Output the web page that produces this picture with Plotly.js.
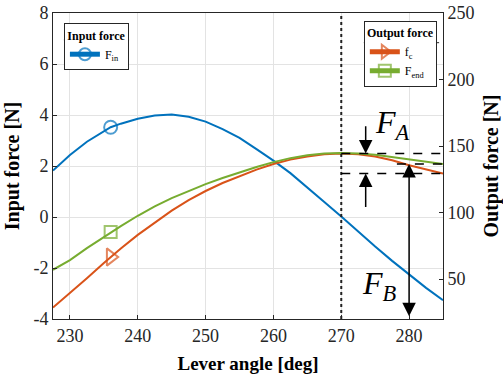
<!DOCTYPE html>
<html>
<head>
<meta charset="utf-8">
<script src="https://cdn.plot.ly/plotly-3.0.1.min.js"></script>
<style>html,body{margin:0;padding:0;background:#fff;}</style>
</head>
<body>
<div id="chart" style="width:503px;height:377px;"></div>
<script>
// Lever angle [deg]
const angles = [227.5, 230, 232.5, 235, 236, 237.5, 240, 242.5, 245, 247.5, 250, 252.5, 255, 257.5, 260, 262.5, 265, 267.5, 270, 272.5, 275, 277.5, 280, 282.5, 285];
// Input force F_in [N] (left axis)
const fIn = [1.82, 2.43, 2.95, 3.38, 3.52, 3.66, 3.85, 3.98, 4.02, 3.93, 3.74, 3.45, 3.10, 2.66, 2.21, 1.72, 1.17, 0.59, 0.02, -0.58, -1.16, -1.72, -2.26, -2.78, -3.26];
// Output force f_c [N] (right axis)
const fC = [28.6, 39.4, 50.7, 62.1, 66.6, 73.0, 83.2, 92.6, 101.4, 109.4, 116.2, 122.2, 127.5, 132.3, 136.5, 139.8, 142.2, 143.8, 144.4, 143.8, 142.1, 139.3, 135.6, 132.5, 129.4];
// Output force F_end [N] (right axis)
const fEnd = [57.0, 64.3, 73.3, 81.8, 85.3, 89.8, 97.6, 104.6, 110.8, 116.4, 121.4, 126.0, 130.3, 134.3, 137.9, 140.9, 143.1, 144.4, 144.8, 144.4, 143.4, 141.8, 139.8, 138.1, 136.5];

const markerAngle = 236;
const refAngle = 270;
const fAArrowAngle = 273.6;
const fBArrowAngle = 280;

const xTicks = [230, 240, 250, 260, 270, 280];
const yLeftTicks = [-4, -2, 0, 2, 4, 6, 8];
const yLeftTickText = ['-4', '-2', '0', '2', '4', '6', '8'];
const yRightTicks = [50, 100, 150, 200, 250];

const xRange = [227.5, 285];
const yLeftRange = [-4, 8];
const yRightRange = [20, 250];

const blue = '#0072BD', orange = '#D95319', green = '#77AC30';
const serif = '"Liberation Serif", "Times New Roman", Times, serif';
const axisCol = '#262626';

const sizeAt = s => angles.map(a => a === markerAngle ? s : 0);

const peakForce = Math.max(...fC);
const cEnd = fC[fC.length - 1];
const endEnd = fEnd[fEnd.length - 1];

const traces = [
  {x: angles, y: fIn, name: 'F<sub>in</sub>', mode: 'lines+markers', yaxis: 'y', legend: 'legend',
   line: {color: blue, width: 2},
   marker: {symbol: 'circle-open', size: sizeAt(13), color: blue, line: {width: 2, color: blue}}},
  {x: angles, y: fC, name: 'f<sub>c</sub>', mode: 'lines+markers', yaxis: 'y2', legend: 'legend2',
   line: {color: orange, width: 2},
   marker: {symbol: 'triangle-right-open', size: sizeAt(15), color: orange, line: {width: 2, color: orange}}},
  {x: angles, y: fEnd, name: 'F<sub>end</sub>', mode: 'lines+markers', yaxis: 'y2', legend: 'legend2',
   line: {color: green, width: 2},
   marker: {symbol: 'square-open', size: sizeAt(12), color: green, line: {width: 2, color: green}}}
];

const legendCommon = {
  bgcolor: '#ffffff', bordercolor: axisCol, borderwidth: 1,
  font: {family: serif, size: 12, color: '#000'},
  itemsizing: 'constant', tracegroupgap: 0,
  xanchor: 'left', yanchor: 'top'
};

const layout = {
  width: 503, height: 377,
  margin: {l: 53, r: 60, t: 13, b: 58},
  paper_bgcolor: '#fff', plot_bgcolor: '#fff',
  font: {family: serif, color: axisCol},
  showlegend: true,
  legend: Object.assign({}, legendCommon, {x: 0.028, y: 0.967,
    title: {text: 'Input force', side: 'top center', font: {family: serif, size: 12, weight: 'bold', color: '#000'}}}),
  legend2: Object.assign({}, legendCommon, {x: 0.797, y: 0.975,
    title: {text: 'Output force', side: 'top center', font: {family: serif, size: 12, weight: 'bold', color: '#000'}}}),
  xaxis: {
    range: xRange, tickvals: xTicks, ticks: 'inside', ticklen: 4, tickcolor: axisCol,
    showline: true, linecolor: axisCol, linewidth: 1, mirror: true,
    showgrid: true, gridcolor: '#e3e3e3', gridwidth: 1, zeroline: false,
    tickfont: {family: serif, size: 18, color: axisCol},
    title: {text: 'Lever angle [deg]', font: {family: serif, size: 19, weight: 'bold', color: '#000'}, standoff: 12}
  },
  yaxis: {
    range: yLeftRange, tickvals: yLeftTicks, ticktext: yLeftTickText, ticks: 'inside', ticklen: 4, tickcolor: axisCol,
    showline: true, linecolor: axisCol, linewidth: 1,
    showgrid: true, gridcolor: '#e3e3e3', gridwidth: 1, zeroline: false,
    tickfont: {family: serif, size: 18, color: axisCol},
    title: {text: 'Input force [N]', font: {family: serif, size: 20, weight: 'bold', color: '#000'}, standoff: 8}
  },
  yaxis2: {
    range: yRightRange, tickvals: yRightTicks, ticks: 'inside', ticklen: 4, tickcolor: axisCol,
    overlaying: 'y', side: 'right',
    showline: true, linecolor: axisCol, linewidth: 1,
    showgrid: false, zeroline: false,
    tickfont: {family: serif, size: 18, color: axisCol},
    title: {text: 'Output force [N]', font: {family: serif, size: 20, weight: 'bold', color: '#000'}, standoff: 10}
  },
  shapes: [
    {type: 'line', xref: 'x', yref: 'paper', x0: refAngle, x1: refAngle, y0: 0, y1: 1,
     line: {color: '#222', width: 2, dash: 'dot'}},
    {type: 'line', xref: 'x', yref: 'y2', x0: refAngle, x1: xRange[1], y0: peakForce, y1: peakForce,
     line: {color: '#000', width: 1.5, dash: 'dash'}},
    {type: 'line', xref: 'x', yref: 'y2', x0: refAngle, x1: xRange[1], y0: cEnd, y1: cEnd,
     line: {color: '#000', width: 1.5, dash: 'dash'}},
    {type: 'line', xref: 'x', yref: 'y2', x0: 278.2, x1: xRange[1], y0: endEnd, y1: endEnd,
     line: {color: '#000', width: 1.5, dash: 'dash'}},
    {type: 'line', xref: 'paper', yref: 'paper', x0: 0.028, x1: 0.195, y0: 0.912, y1: 0.912,
     line: {color: axisCol, width: 1}},
    {type: 'line', xref: 'paper', yref: 'paper', x0: 0.797, x1: 0.99, y0: 0.903, y1: 0.903,
     line: {color: axisCol, width: 1}}
  ],
  annotations: [
    {x: fAArrowAngle, y: peakForce, ax: fAArrowAngle, ay: 166, xref: 'x', yref: 'y2', axref: 'x', ayref: 'y2',
     showarrow: true, text: '', arrowhead: 2, arrowsize: 1.8, arrowwidth: 1.5, arrowcolor: '#000'},
    {x: fAArrowAngle, y: cEnd, ax: fAArrowAngle, ay: 103, xref: 'x', yref: 'y2', axref: 'x', ayref: 'y2',
     showarrow: true, text: '', arrowhead: 2, arrowsize: 1.8, arrowwidth: 1.5, arrowcolor: '#000'},
    {x: fBArrowAngle, y: endEnd, ax: fBArrowAngle, ay: 21, xref: 'x', yref: 'y2', axref: 'x', ayref: 'y2',
     showarrow: true, text: '', arrowhead: 2, startarrowhead: 2, arrowside: 'end+start',
     arrowsize: 1.8, startarrowsize: 1.8, arrowwidth: 1.5, arrowcolor: '#000'},
    {x: 277.5, y: 166, xref: 'x', yref: 'y2', showarrow: false,
     text: '<i>F</i><sub><i>A</i></sub>', font: {family: serif, size: 32, color: '#000'}},
    {x: 275.7, y: 45.5, xref: 'x', yref: 'y2', showarrow: false,
     text: '<i>F</i><sub><i>B</i></sub>', font: {family: serif, size: 32, color: '#000'}}
  ]
};

Plotly.newPlot('chart', traces, layout, {displayModeBar: false, staticPlot: true});
</script>
</body>
</html>
